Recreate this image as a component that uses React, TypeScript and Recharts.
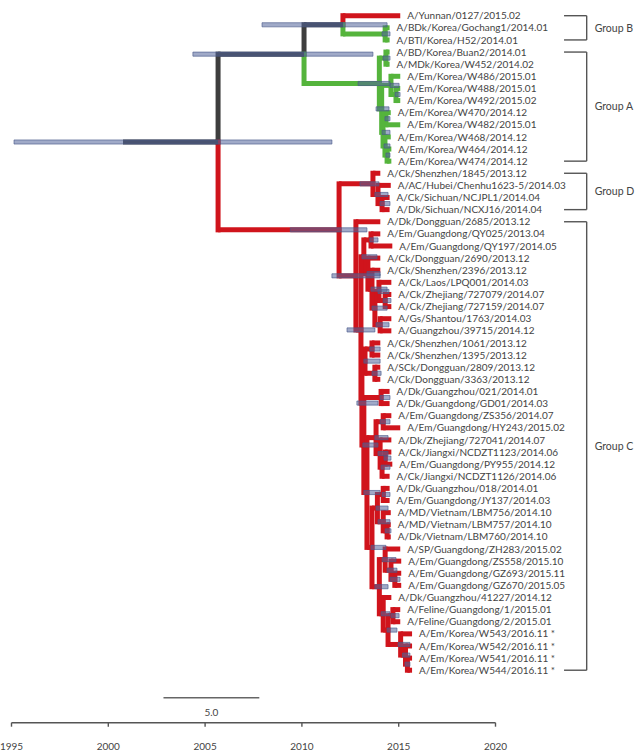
import React from "react";
import {
  ComposedChart,
  ReferenceArea,
  ReferenceLine,
  Scatter,
  XAxis,
  YAxis,
} from "recharts";

const leafNames = [
  "A/Yunnan/0127/2015.02",
  "A/BDk/Korea/Gochang1/2014.01",
  "A/BTl/Korea/H52/2014.01",
  "A/BD/Korea/Buan2/2014.01",
  "A/MDk/Korea/W452/2014.02",
  "A/Em/Korea/W486/2015.01",
  "A/Em/Korea/W488/2015.01",
  "A/Em/Korea/W492/2015.02",
  "A/Em/Korea/W470/2014.12",
  "A/Em/Korea/W482/2015.01",
  "A/Em/Korea/W468/2014.12",
  "A/Em/Korea/W464/2014.12",
  "A/Em/Korea/W474/2014.12",
  "A/Ck/Shenzhen/1845/2013.12",
  "A/AC/Hubei/Chenhu1623-5/2014.03",
  "A/Ck/Sichuan/NCJPL1/2014.04",
  "A/Dk/Sichuan/NCXJ16/2014.04",
  "A/Dk/Dongguan/2685/2013.12",
  "A/Em/Guangdong/QY025/2013.04",
  "A/Em/Guangdong/QY197/2014.05",
  "A/Ck/Dongguan/2690/2013.12",
  "A/Ck/Shenzhen/2396/2013.12",
  "A/Ck/Laos/LPQ001/2014.03",
  "A/Ck/Zhejiang/727079/2014.07",
  "A/Ck/Zhejiang/727159/2014.07",
  "A/Gs/Shantou/1763/2014.03",
  "A/Guangzhou/39715/2014.12",
  "A/Ck/Shenzhen/1061/2013.12",
  "A/Ck/Shenzhen/1395/2013.12",
  "A/SCk/Dongguan/2809/2013.12",
  "A/Ck/Dongguan/3363/2013.12",
  "A/Dk/Guangzhou/021/2014.01",
  "A/Dk/Guangdong/GD01/2014.03",
  "A/Em/Guangdong/ZS356/2014.07",
  "A/Em/Guangdong/HY243/2015.02",
  "A/Dk/Zhejiang/727041/2014.07",
  "A/Ck/Jiangxi/NCDZT1123/2014.06",
  "A/Em/Guangdong/PY955/2014.12",
  "A/Ck/Jiangxi/NCDZT1126/2014.06",
  "A/Dk/Guangzhou/018/2014.01",
  "A/Em/Guangdong/JY137/2014.03",
  "A/MD/Vietnam/LBM756/2014.10",
  "A/MD/Vietnam/LBM757/2014.10",
  "A/Dk/Vietnam/LBM760/2014.10",
  "A/SP/Guangdong/ZH283/2015.02",
  "A/Em/Guangdong/ZS558/2015.10",
  "A/Em/Guangdong/GZ693/2015.11",
  "A/Em/Guangdong/GZ670/2015.05",
  "A/Dk/Guangzhou/41227/2014.12",
  "A/Feline/Guangdong/1/2015.01",
  "A/Feline/Guangdong/2/2015.01",
  "A/Em/Korea/W543/2016.11 *",
  "A/Em/Korea/W542/2016.11 *",
  "A/Em/Korea/W541/2016.11 *",
  "A/Em/Korea/W544/2016.11 *",
];

// tip positions as they sit on the time axis
const tipYears = [
  2015.08, 2014.53, 2014.53, 2014.53, 2014.53, 2015.08, 2015.08, 2015.08,
  2014.59, 2015.08, 2014.59, 2014.62, 2014.62, 2014.05, 2014.59, 2014.53,
  2014.53, 2014.05, 2014.05, 2014.67, 2014.05, 2014.05, 2014.62, 2014.62,
  2014.62, 2014.62, 2014.62, 2014.05, 2014.05, 2014.05, 2014.05, 2014.53,
  2014.53, 2014.62, 2015.08, 2014.62, 2014.62, 2014.67, 2014.53, 2014.53,
  2014.53, 2014.59, 2014.59, 2014.59, 2015.08, 2015.13, 2015.13, 2015.13,
  2014.62, 2015.08, 2015.08, 2015.69, 2015.69, 2015.69, 2015.69,
];

const leafColour = "rgg" + "gggggggggg" + "rrrr" + "rrrrrrrrrrrrrrrrrrrrrrrrrrrrrrrrrrrrrr";

type Child = number | string;
// id, first child, second child, node year, HPD low, HPD high, colour
const nodes: [string, Child, Child, number, number, number, string][] = [
  ["root", "AB", "CD", 2005.67, 1995.13, 2011.55, "k"],
  ["AB", "B", "A", 2010.11, 2004.37, 2013.67, "k"],
  ["B", 0, "B2", 2012.12, 2007.94, 2014.4, "k"],
  ["B2", 1, 2, 2014.3, 2014.14, 2014.55, "g"],
  ["A", "A1", "A2", 2014.0, 2012.9, 2014.55, "g"],
  ["A1", 3, 4, 2014.34, 2014.19, 2014.55, "g"],
  ["A2", "A3", "A4", 2014.12, 2013.83, 2014.5, "g"],
  ["A3", 5, "A3b", 2014.6, 2014.55, 2015.02, "g"],
  ["A3b", 6, 7, 2014.86, 2014.81, 2015.07, "g"],
  ["A4", "A5", "A6", 2014.19, 2014.14, 2014.55, "g"],
  ["A5", 8, 9, 2014.34, 2014.29, 2014.55, "g"],
  ["A6", 10, "A7", 2014.29, 2014.24, 2014.55, "g"],
  ["A7", 11, 12, 2014.4, 2014.34, 2014.55, "g"],
  ["CD", "D", "C", 2011.92, 2009.4, 2013.36, "r"],
  ["D", 13, "D2", 2013.67, 2013.0, 2013.98, "r"],
  ["D2", 14, "D3", 2013.93, 2013.77, 2014.45, "r"],
  ["D3", 15, 16, 2014.14, 2014.04, 2014.55, "r"],
  ["C", 17, "C1", 2012.79, 2011.55, 2014.04, "r"],
  ["C1", "G1", "G2", 2013.05, 2012.33, 2013.77, "r"],
  ["G1", "G1a", "G1b", 2013.2, 2013.1, 2013.88, "r"],
  ["G1a", 18, 19, 2013.57, 2013.51, 2013.93, "r"],
  ["G1b", 20, "G1c", 2013.41, 2013.36, 2014.04, "r"],
  ["G1c", 21, "G1d", 2013.62, 2013.57, 2014.4, "r"],
  ["G1d", "G1e", "G1f", 2013.77, 2013.62, 2014.4, "r"],
  ["G1e", 22, "G1g", 2013.98, 2013.93, 2014.5, "r"],
  ["G1g", 23, 24, 2014.3, 2014.2, 2014.6, "r"],
  ["G1f", 25, 26, 2014.04, 2013.83, 2014.5, "r"],
  ["G2", "G2a", "G2b", 2013.1, 2012.84, 2013.93, "r"],
  ["G2a", "G2a1", "G2a2", 2013.26, 2013.2, 2014.04, "r"],
  ["G2a1", 27, 28, 2013.62, 2013.51, 2014.04, "r"],
  ["G2a2", 29, 30, 2013.77, 2013.62, 2014.09, "r"],
  ["G2b", "G2b1", "R", 2013.2, 2013.15, 2013.93, "r"],
  ["G2b1", 31, 32, 2014.09, 2014.04, 2014.55, "r"],
  ["R", "R1", "R2", 2013.36, 2013.2, 2014.04, "r"],
  ["R1", "R1a", "R1b", 2013.83, 2013.77, 2014.45, "r"],
  ["R1a", 33, 34, 2014.2, 2014.04, 2014.55, "r"],
  ["R1b", 35, "R1c", 2014.04, 2013.93, 2014.45, "r"],
  ["R1c", "R1d", 38, 2014.14, 2014.09, 2014.55, "r"],
  ["R1d", 36, 37, 2014.3, 2014.24, 2014.6, "r"],
  ["R2", "R2a", "R2b", 2013.62, 2013.57, 2014.34, "r"],
  ["R2a", "R2a1", "R2a2", 2013.9, 2013.83, 2014.45, "r"],
  ["R2a1", 39, 40, 2014.2, 2014.14, 2014.55, "r"],
  ["R2a2", 41, "R2a3", 2014.2, 2013.93, 2014.55, "r"],
  ["R2a3", 42, 43, 2014.4, 2014.3, 2014.6, "r"],
  ["R2b", "R2b1", "R2b2", 2014.0, 2013.77, 2014.45, "r"],
  ["R2b1", 44, "R2b3", 2014.3, 2014.14, 2014.86, "r"],
  ["R2b3", 45, "R2b4", 2014.6, 2014.4, 2014.91, "r"],
  ["R2b4", 46, 47, 2014.8, 2014.55, 2015.07, "r"],
  ["R2b2", 48, "R2b5", 2014.2, 2014.09, 2014.55, "r"],
  ["R2b5", "R2b6", "W1", 2014.45, 2014.4, 2014.91, "r"],
  ["R2b6", 49, 50, 2014.7, 2014.6, 2015.02, "r"],
  ["W1", 51, "W2", 2015.1, 2014.97, 2015.58, "r"],
  ["W2", 52, "W3", 2015.35, 2015.2, 2015.58, "r"],
  ["W3", 53, 54, 2015.45, 2015.33, 2015.58, "r"],
];

const rootStemYear = 2000.76;

const groups = [
  { name: "Group B", from: 0, to: 2 },
  { name: "Group A", from: 3, to: 12 },
  { name: "Group D", from: 13, to: 16 },
  { name: "Group C", from: 17, to: 54 },
];

const yearTicks = [1995, 2000, 2005, 2010, 2015, 2020];

const COLOURS: Record<string, string> = {
  k: "#3e3e3e",
  g: "#55b43c",
  r: "#d0141c",
};
const TEXT = "#444";
const FONT = "Lato, 'Open Sans', sans-serif";

interface Seg {
  x1: number;
  y1: number;
  x2: number;
  y2: number;
  colour: string;
  vertical: boolean;
}

// simple rectangular dendrogram layout: leaves at their index, nodes at mid of children
const nodeMap = new Map(nodes.map((n) => [n[0], n]));
const segs: Seg[] = [];
const hpds: { lo: number; hi: number; y: number }[] = [];

function place(ch: Child): { x: number; y: number; c: string } {
  if (typeof ch === "number") {
    return { x: tipYears[ch], y: ch, c: leafColour[ch] };
  }
  const n = nodeMap.get(ch)!;
  const a = place(n[1]);
  const b = place(n[2]);
  const p = { x: n[3], y: (a.y + b.y) / 2, c: n[6] };
  for (const kid of [a, b]) {
    segs.push({ x1: p.x, y1: p.y, x2: p.x, y2: kid.y, colour: kid.c, vertical: true });
    segs.push({ x1: p.x, y1: kid.y, x2: kid.x, y2: kid.y, colour: kid.c, vertical: false });
  }
  hpds.push({ lo: n[4], hi: n[5], y: p.y });
  return p;
}

const root = place("root");
segs.push({
  x1: rootStemYear,
  y1: root.y,
  x2: root.x,
  y2: root.y,
  colour: "k",
  vertical: false,
});

const tips = leafNames.map((name, i) => ({ x: tipYears[i], y: i, name }));

const TipLabel = (props: any) => {
  const { cx, cy, payload } = props;
  return (
    <text
      x={cx + 7}
      y={cy}
      dy="0.36em"
      fontSize={10}
      fontFamily={FONT}
      fill={TEXT}
    >
      {payload.name}
    </text>
  );
};

export default function App() {
  return (
    <div style={{ position: "absolute", left: 0, top: 0, background: "#fff" }}>
      <ComposedChart
        width={643}
        height={754}
        margin={{ top: 0, right: 147.5, bottom: 0, left: 11.5 }}
      >
        <XAxis
          type="number"
          dataKey="x"
          domain={[1995, 2020]}
          ticks={yearTicks}
          height={31.3}
          tickSize={4}
          tickMargin={16}
          stroke="#555"
          strokeWidth={1.4}
          tick={{ fill: TEXT, fontSize: 10, fontFamily: FONT }}
        />
        <YAxis
          type="number"
          dataKey="y"
          domain={[-1.295, 58.33]}
          reversed
          hide
        />
        {segs.map((s, i) => (
          <ReferenceLine
            key={"s" + i}
            segment={[
              { x: s.x1, y: s.y1 },
              { x: s.x2, y: s.y2 },
            ]}
            stroke={COLOURS[s.colour]}
            strokeWidth={5}
            strokeLinecap={s.vertical ? "square" : "butt"}
            ifOverflow="visible"
            zIndex={100}
          />
        ))}
        {hpds.map((h, i) => (
          <ReferenceArea
            key={"h" + i}
            x1={h.lo}
            x2={h.hi}
            y1={h.y - 0.17}
            y2={h.y + 0.17}
            fill="#52649b"
            fillOpacity={0.55}
            stroke="#4a5a8a"
            strokeOpacity={0.8}
            strokeWidth={0.8}
            ifOverflow="visible"
            zIndex={150}
          />
        ))}
        {groups.map((g) => (
          <React.Fragment key={g.name}>
            <ReferenceLine
              segment={[
                { x: 2024.71, y: g.from },
                { x: 2024.71, y: g.to },
              ]}
              stroke="#555"
              strokeWidth={1.4}
              ifOverflow="visible"
              label={{
                value: g.name,
                position: "right",
                offset: 8,
                fill: TEXT,
                fontSize: 10.5,
                fontFamily: FONT,
              }}
            />
            <ReferenceLine
              segment={[
                { x: 2023.54, y: g.from },
                { x: 2024.71, y: g.from },
              ]}
              stroke="#555"
              strokeWidth={1.4}
              ifOverflow="visible"
            />
            <ReferenceLine
              segment={[
                { x: 2023.54, y: g.to },
                { x: 2024.71, y: g.to },
              ]}
              stroke="#555"
              strokeWidth={1.4}
              ifOverflow="visible"
            />
          </React.Fragment>
        ))}
        <ReferenceLine
          segment={[
            { x: 2002.85, y: 56.27 },
            { x: 2007.8, y: 56.27 },
          ]}
          stroke="#666"
          strokeWidth={1.5}
          ifOverflow="visible"
          label={{
            value: "5.0",
            position: "bottom",
            offset: 11,
            fill: TEXT,
            fontSize: 10,
            fontFamily: FONT,
          }}
        />
        <Scatter
          data={tips}
          isAnimationActive={false}
          shape={TipLabel}
          zIndex={200}
        />
      </ComposedChart>
    </div>
  );
}
